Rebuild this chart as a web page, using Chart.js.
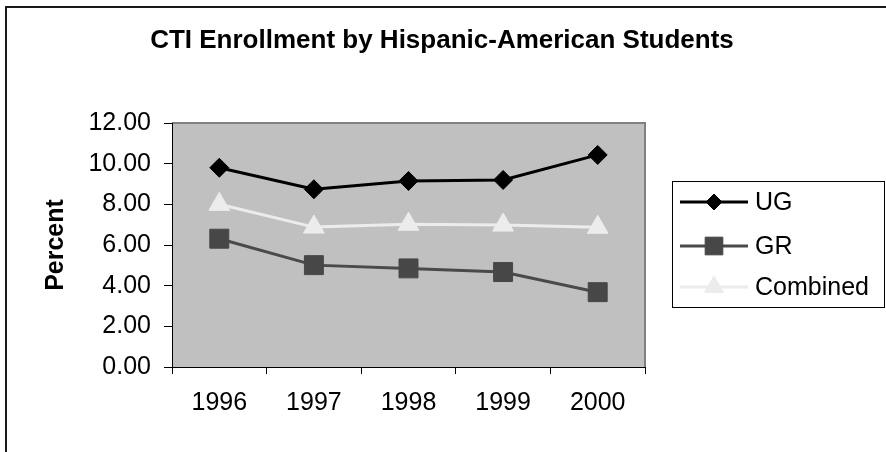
<!DOCTYPE html>
<html>
<head>
<meta charset="utf-8">
<script src="https://cdn.jsdelivr.net/npm/chart.js@4/dist/chart.umd.min.js"></script>
<style>
  html, body { margin: 0; padding: 0; background: #fff; }
  #wrap { position: relative; width: 886px; height: 452px; }
</style>
</head>
<body>
<div id="wrap"><canvas id="chartHisp"></canvas></div>
<script>
// du lieu doc tu hinh goc
const TITLE = 'CTI Enrollment by Hispanic-American Students';
const YEARS = ['1996', '1997', '1998', '1999', '2000'];
const UG = [9.80, 8.74, 9.15, 9.20, 10.43];
const GR = [6.31, 5.01, 4.85, 4.67, 3.68];
const COMBINED = [8.00, 6.88, 7.02, 6.98, 6.87];
const Y_TICKS = [0, 2, 4, 6, 8, 10, 12];

const FONT = "'Liberation Sans', Arial, sans-serif";

// nen xam cua vung ve + khung ngoai + tieu de
const frame = {
    id: 'frame',
    beforeDraw(chart) {
        const { ctx, chartArea: a } = chart;
        ctx.save();
        ctx.fillStyle = '#c0c0c0';
        ctx.fillRect(a.left, a.top, a.right - a.left, a.bottom - a.top);
        ctx.strokeStyle = '#808080';
        ctx.lineWidth = 2;
        ctx.beginPath();
        ctx.moveTo(a.left, a.top);
        ctx.lineTo(a.right, a.top);
        ctx.lineTo(a.right, a.bottom);
        ctx.stroke();

        ctx.strokeStyle = '#1a1a1a';
        ctx.lineWidth = 2;
        ctx.beginPath();
        ctx.moveTo(6, 452);
        ctx.lineTo(6, 7);
        ctx.lineTo(886, 7);
        ctx.stroke();

        ctx.fillStyle = '#000';
        ctx.font = 'bold 26px ' + FONT;
        ctx.textAlign = 'center';
        ctx.textBaseline = 'alphabetic';
        ctx.fillText(TITLE, 442, 48);
        ctx.restore();
    },
    // legend kieu Excel: duong + marker, co khung
    afterDraw(chart) {
        const { ctx } = chart;
        const box = { x: 672, y: 181, w: 212, h: 126 };
        const rows = [202, 246, 287];
        const legendRadius = [8, 12.5, 11];
        ctx.save();
        ctx.fillStyle = '#fff';
        ctx.fillRect(box.x, box.y, box.w, box.h);
        ctx.strokeStyle = '#000';
        ctx.lineWidth = 1;
        ctx.strokeRect(box.x + 0.5, box.y + 0.5, box.w, box.h);
        chart.data.datasets.forEach((ds, i) => {
            const y = rows[i];
            ctx.strokeStyle = ds.borderColor;
            ctx.lineWidth = ds.borderWidth;
            ctx.beginPath();
            ctx.moveTo(680, y);
            ctx.lineTo(748, y);
            ctx.stroke();

            ctx.fillStyle = ds.pointBackgroundColor;
            ctx.strokeStyle = ds.pointBorderColor;
            ctx.lineWidth = 1;
            Chart.helpers.drawPoint(ctx, {
                pointStyle: ds.pointStyle,
                radius: legendRadius[i],
                rotation: 0,
                borderWidth: 1,
            }, 714, y);

            ctx.fillStyle = '#000';
            ctx.font = '25px ' + FONT;
            ctx.textAlign = 'left';
            ctx.textBaseline = 'middle';
            ctx.fillText(ds.label, 755, y + 1);
        });
        ctx.restore();
    },
};

function series(label, data, color, markerColor, style, radius) {
    return {
        label,
        data,
        borderColor: color,
        borderWidth: 3,
        pointStyle: style,
        pointRadius: radius,
        pointHoverRadius: radius,
        pointBackgroundColor: markerColor,
        pointBorderColor: markerColor,
        pointBorderWidth: 1,
        tension: 0,
        fill: false,
    };
}

new Chart(document.getElementById('chartHisp').getContext('2d'), {
    type: 'line',
    data: {
        labels: YEARS,
        datasets: [
            series('UG', UG, '#000000', '#000000', 'rectRot', 9.5),
            series('GR', GR, '#4a4a4a', '#474747', 'rect', 13.4),
            series('Combined', COMBINED, '#ececec', '#ececec', 'triangle', 12),
        ],
    },
    plugins: [frame],
    options: {
        responsive: true,
        maintainAspectRatio: false,
        animation: false,
        devicePixelRatio: 1,
        layout: { padding: { top: 123, right: 241, left: 0, bottom: 0 } },
        plugins: {
            legend: { display: false },
            title: { display: false },
            tooltip: { enabled: false },
        },
        scales: {
            x: {
                offset: true,
                afterFit: s => { s.height = 85; },
                grid: { offset: true, drawOnChartArea: false, color: '#000', tickLength: 7, tickWidth: 1 },
                border: { color: '#000', width: 1 },
                ticks: { color: '#000', padding: 14, maxRotation: 0, font: { family: FONT, size: 25 } },
            },
            y: {
                min: Y_TICKS[0],
                max: Y_TICKS[Y_TICKS.length - 1],
                afterFit: s => { s.width = 172; },
                afterBuildTicks: s => { s.ticks = Y_TICKS.map(v => ({ value: v })); },
                grid: { drawOnChartArea: false, color: '#000', tickLength: 8, tickWidth: 1 },
                border: { color: '#000', width: 1 },
                ticks: {
                    color: '#000',
                    padding: 13,
                    font: { family: FONT, size: 25 },
                    callback: v => v.toFixed(2),
                },
                title: {
                    display: true,
                    text: 'Percent',
                    color: '#000',
                    font: { family: FONT, size: 25, weight: 'bold' },
                    padding: { top: 41, bottom: 0 },
                },
            },
        },
    },
});
</script>
</body>
</html>
